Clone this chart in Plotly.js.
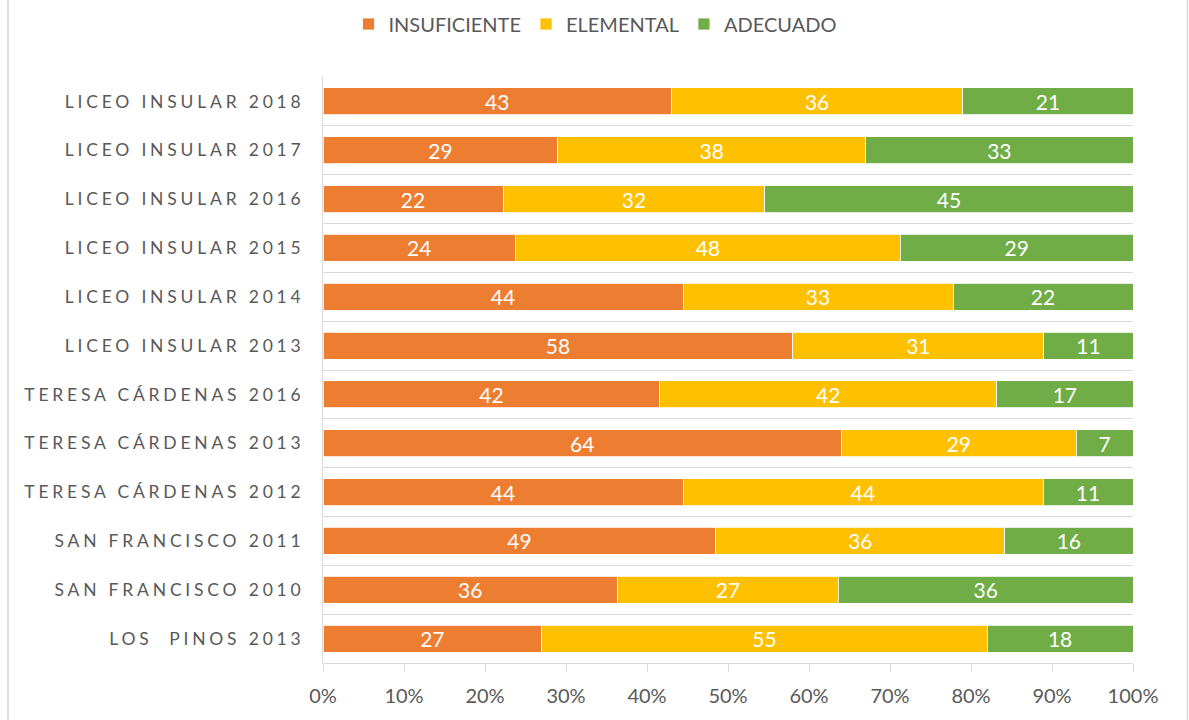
<!DOCTYPE html>
<html>
<head>
<meta charset="utf-8">
<script src="https://cdn.plot.ly/plotly-3.0.1.min.js"></script>
<style>
html, body { margin: 0; padding: 0; background: #fff; }
#chart { width: 1189px; height: 720px; }
.yaxislayer-above text { letter-spacing: 3.8px; }
</style>
</head>
<body>
<div id="chart"></div>
<script>
const categories = [
  "LICEO INSULAR 2018",
  "LICEO INSULAR 2017",
  "LICEO INSULAR 2016",
  "LICEO INSULAR 2015",
  "LICEO INSULAR 2014",
  "LICEO INSULAR 2013",
  "TERESA CÁRDENAS 2016",
  "TERESA CÁRDENAS 2013",
  "TERESA CÁRDENAS 2012",
  "SAN FRANCISCO 2011",
  "SAN FRANCISCO 2010",
  "LOS  PINOS 2013"
];
const insuficiente = [43, 29, 22, 24, 44, 58, 42, 64, 44, 49, 36, 27];
const elemental    = [36, 38, 32, 48, 33, 31, 42, 29, 44, 36, 27, 55];
const adecuado     = [21, 33, 45, 29, 22, 11, 17, 7, 11, 16, 36, 18];
const seriesNames  = ["INSUFICIENTE", "ELEMENTAL", "ADECUADO"];
const seriesColors = ["#ED7D31", "#FFC000", "#70AD47"];
const xTickVals    = [0, 10, 20, 30, 40, 50, 60, 70, 80, 90, 100];
const xTickText    = ["0%", "10%", "20%", "30%", "40%", "50%", "60%", "70%", "80%", "90%", "100%"];

const FONT = "Lato, 'Open Sans', 'DejaVu Sans', sans-serif";
const allSeries = [insuficiente, elemental, adecuado];

const traces = allSeries.map((vals, i) => ({
  type: "bar",
  orientation: "h",
  name: seriesNames[i],
  y: categories,
  x: vals,
  text: vals.map(String),
  texttemplate: "%{text}",
  textposition: "inside",
  insidetextanchor: "middle",
  constraintext: "none",
  textangle: 0,
  textfont: { color: "#ffffff", size: 21, family: FONT },
  marker: { color: seriesColors[i], line: { color: "#ffffff", width: 0.8 } },
  hoverinfo: "skip"
}));

const L = 323, R = 1133, T = 77, B = 663, W = 1189, H = 720;
const pw = R - L, ph = B - T;

const layout = {
  width: W, height: H,
  margin: { l: L, r: W - R, t: T, b: H - B, pad: 0, autoexpand: false },
  paper_bgcolor: "#ffffff",
  plot_bgcolor: "#ffffff",
  barmode: "stack",
  barnorm: "percent",
  bargap: 0.45,
  font: { family: FONT, color: "#595959", size: 18 },
  showlegend: true,
  legend: {
    orientation: "h",
    x: (595 - L) / pw, xanchor: "center",
    y: (B - 24) / ph, yanchor: "middle",
    font: { size: 20, color: "#595959", family: FONT },
    itemwidth: 30,
    tracegroupgap: 0,
    traceorder: "normal"
  },
  xaxis: {
    range: [0, 100],
    tickvals: xTickVals,
    ticktext: xTickText,
    showgrid: false,
    zeroline: false,
    showline: true,
    linecolor: "#d9d9d9",
    linewidth: 1,
    ticks: "outside",
    ticklen: 8,
    tickcolor: "#d9d9d9",
    tickwidth: 1,
    ticklabelstandoff: 7,
    tickfont: { size: 20, color: "#595959", family: FONT },
    fixedrange: true
  },
  yaxis: {
    type: "category",
    autorange: "reversed",
    tickson: "boundaries",
    showgrid: true,
    gridcolor: "#d9d9d9",
    gridwidth: 1,
    showline: true,
    linecolor: "#d9d9d9",
    linewidth: 1,
    ticks: "",
    ticklabelstandoff: 14,
    tickfont: { size: 17.5, color: "#595959", family: FONT },
    fixedrange: true
  },
  shapes: [
    { type: "line", xref: "paper", yref: "paper",
      x0: (8 - L) / pw, x1: (8 - L) / pw, y0: (B - 0) / ph, y1: (B - H) / ph,
      line: { color: "#d9d9d9", width: 1.5 } },
    { type: "line", xref: "paper", yref: "paper",
      x0: (1187.5 - L) / pw, x1: (1187.5 - L) / pw, y0: (B - 0) / ph, y1: (B - H) / ph,
      line: { color: "#d9d9d9", width: 1.5 } }
  ]
};

Plotly.newPlot("chart", traces, layout, { displayModeBar: false, staticPlot: true });
</script>
</body>
</html>
